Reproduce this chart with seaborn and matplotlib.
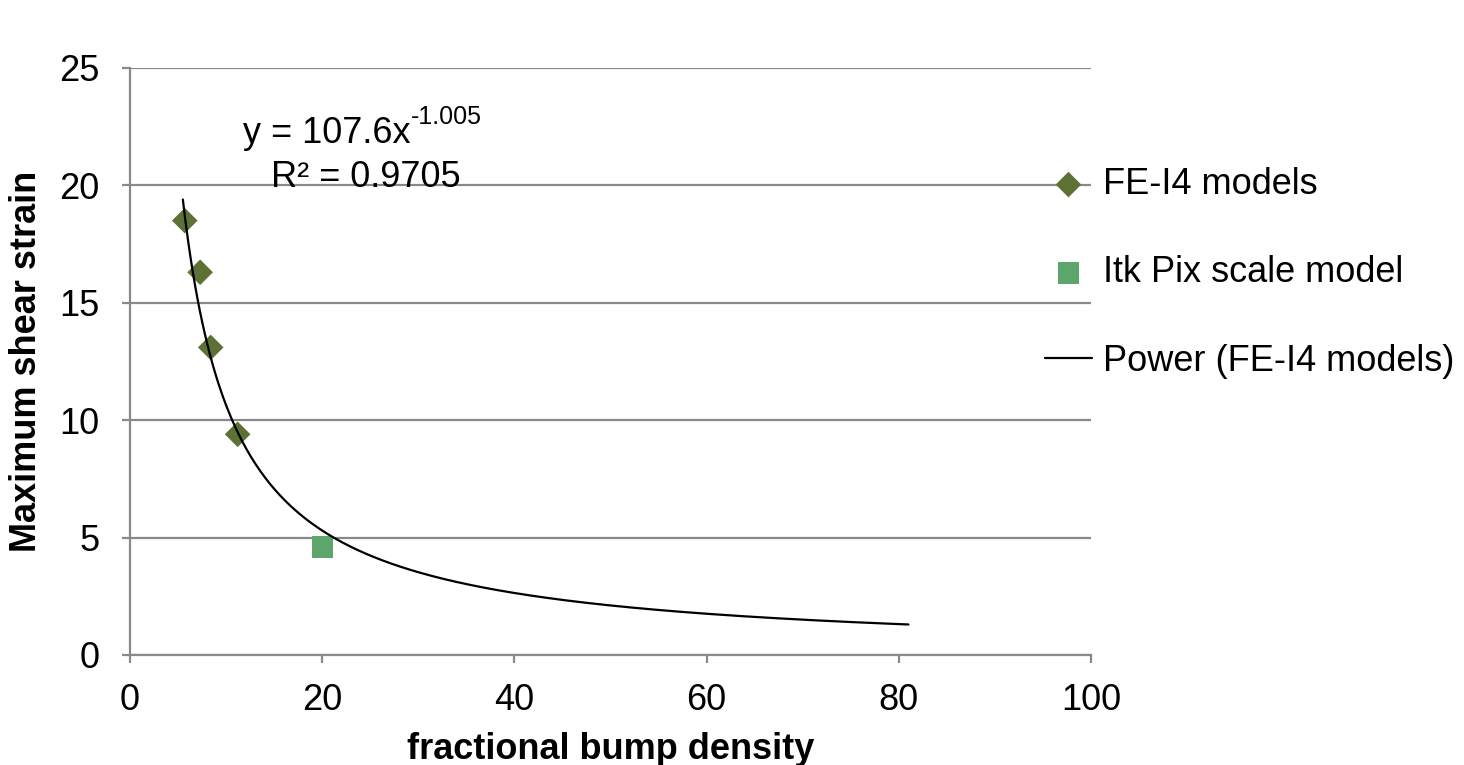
import numpy as np
import pandas as pd
import matplotlib
matplotlib.use("Agg")
import matplotlib.pyplot as plt
import seaborn as sns

# values
fe_density = [5.7, 7.3, 8.4, 11.2]
fe_strain = [18.5, 16.3, 13.1, 9.4]
itk_density = [20.0]
itk_strain = [4.6]

# Excel power trendline shown on the chart
fit_coef = 107.6
fit_exp = -1.005
fit_r2 = 0.9705
fit_range = [5.5, 81.0]

x_ticks = [0, 20, 40, 60, 80, 100]
y_ticks = [0, 5, 10, 15, 20, 25]

grid_col = "#898989"
fe_col = "#5d7135"
itk_col = "#5ca66b"

sns.set_theme(style="white")
plt.rcParams["font.family"] = ["Liberation Sans", "DejaVu Sans"]
plt.rcParams["font.size"] = 26
plt.rcParams["text.color"] = "black"
plt.rcParams["axes.labelcolor"] = "black"
plt.rcParams["axes.unicode_minus"] = False

fig = plt.figure(figsize=(14.64, 7.65), dpi=100)
ax = fig.add_axes([130 / 1464, 110 / 765, 961 / 1464, 587 / 765])

fe = pd.DataFrame({"x": fe_density, "y": fe_strain})
itk = pd.DataFrame({"x": itk_density, "y": itk_strain})
trend_x = np.linspace(fit_range[0], fit_range[1], 300)
trend = pd.DataFrame({"x": trend_x, "y": fit_coef * trend_x ** fit_exp})

sns.scatterplot(data=fe, x="x", y="y", ax=ax, marker="D", s=170, color=fe_col,
                edgecolor="none", label="FE-I4 models", zorder=3)
sns.scatterplot(data=itk, x="x", y="y", ax=ax, marker="s", s=230, color=itk_col,
                edgecolor="none", label="Itk Pix scale model", zorder=3)
sns.lineplot(data=trend, x="x", y="y", ax=ax, color="black", linewidth=1.6,
             label="Power (FE-I4 models)", zorder=4)

ax.set_xlim(0, 100)
ax.set_ylim(0, 25)
ax.set_xticks(x_ticks)
ax.set_yticks(y_ticks)
ax.grid(axis="y", color=grid_col, linewidth=1.6)
ax.set_axisbelow(True)
for side in ["top", "right"]:
    ax.spines[side].set_visible(False)
for side in ["left", "bottom"]:
    ax.spines[side].set_color(grid_col)
    ax.spines[side].set_linewidth(1.6)
ax.tick_params(axis="both", which="major", direction="out", length=6, width=1.6,
               color=grid_col, labelsize=26, labelcolor="black")
ax.tick_params(axis="y", pad=16, left=True)
ax.tick_params(axis="x", pad=14, bottom=True)

ax.set_xlabel("fractional bump density", fontsize=26, fontweight="bold")
ax.set_ylabel("Maximum shear strain", fontsize=26, fontweight="bold")
ax.xaxis.set_label_coords(0.5, -0.132)
ax.yaxis.set_label_coords(-0.090, 0.5)

# trendline label: equation with a plain-hyphen superscript, then R²
eq = ax.text(11.8, 21.8, "y = %.1fx" % fit_coef, ha="left", va="baseline", fontsize=26)
ax.annotate("%.3f" % fit_exp, xy=(1, 0.62), xycoords=eq, ha="left", va="bottom",
            fontsize=18)
ax.text(24.5, 19.93, "R² = %.4f" % fit_r2, ha="center", va="baseline", fontsize=26)

ax.legend(loc="center left", bbox_to_anchor=(1045 / 1464, 492 / 765),
          bbox_transform=fig.transFigure, frameon=False, fontsize=26,
          borderpad=0, borderaxespad=0, handlelength=1.3, handletextpad=0.3,
          labelspacing=1.48, scatterpoints=1)

fig.savefig("out.png", dpi=100)
